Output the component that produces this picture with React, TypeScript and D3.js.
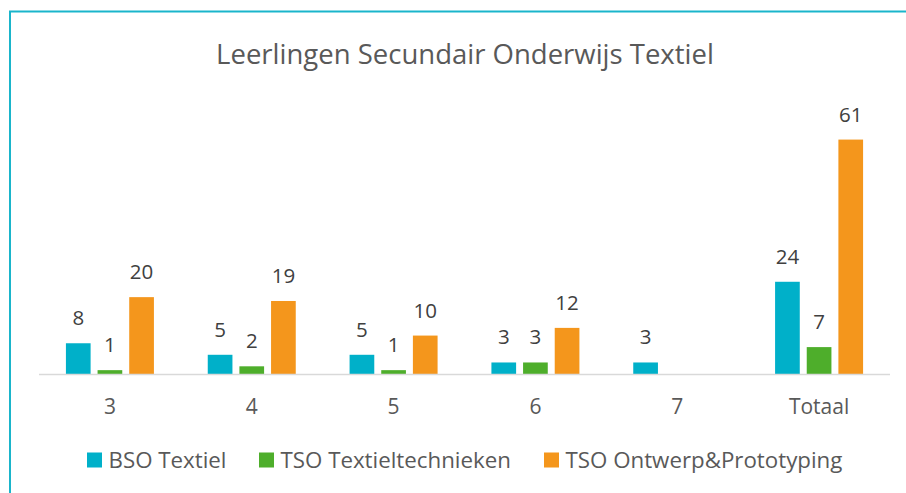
import { useEffect, useRef } from 'react';
import * as d3 from 'd3';

const categories = ['3', '4', '5', '6', '7', 'Totaal'];
const seriesNames = ['BSO Textiel', 'TSO Textieltechnieken', 'TSO Ontwerp&Prototyping'];
const bsoTextiel = [8, 5, 5, 3, 3, 24];
const tsoTextieltechnieken = [1, 2, 1, 3, null, 7];
const tsoOntwerp = [20, 19, 10, 12, null, 61];
const colors = ['#00B0C9', '#4EAE2B', '#F4961C'];

const App = () => {
  const ref = useRef<SVGSVGElement | null>(null);

  useEffect(() => {
    const svg = d3.select(ref.current);
    svg.selectAll('*').remove();

    const width = 906;
    const height = 493;
    const font = "'Open Sans', sans-serif";
    const textColor = '#595959';
    const values = [bsoTextiel, tsoTextieltechnieken, tsoOntwerp];

    // frame (top + left edges visible)
    svg
      .append('path')
      .attr('d', `M10,${height} L10,11.5 L${width},11.5`)
      .attr('fill', 'none')
      .attr('stroke', '#1AB5CB')
      .attr('stroke-width', 2);

    svg
      .append('text')
      .attr('x', 465)
      .attr('y', 64)
      .attr('text-anchor', 'middle')
      .attr('font-family', font)
      .attr('font-size', 27.5)
      .attr('fill', textColor)
      .text('Leerlingen Secundair Onderwijs Textiel');

    const x0 = d3.scaleBand().domain(categories).range([39, 890]);
    const x1 = d3
      .scaleBand()
      .domain(seriesNames)
      .range([x0.bandwidth() / 2 - 44, x0.bandwidth() / 2 + 44])
      .paddingInner(0.22);
    const y = d3.scaleLinear().domain([0, 70]).range([374, 105]);

    const g = svg.append('g');

    categories.forEach((cat, ci) => {
      seriesNames.forEach((s, si) => {
        const v = values[si][ci];
        if (v == null) return;
        const bx = (x0(cat) ?? 0) + (x1(s) ?? 0);
        g.append('rect')
          .attr('x', bx)
          .attr('y', y(v))
          .attr('width', x1.bandwidth())
          .attr('height', y(0) - y(v))
          .attr('fill', colors[si]);
        g.append('text')
          .attr('x', bx + x1.bandwidth() / 2)
          .attr('y', y(v) - 18)
          .attr('text-anchor', 'middle')
          .attr('font-family', font)
          .attr('font-size', 20.5)
          .attr('fill', '#404040')
          .text(v);
      });
    });

    // axis line
    svg
      .append('line')
      .attr('x1', 39)
      .attr('x2', 890)
      .attr('y1', y(0) + 0.5)
      .attr('y2', y(0) + 0.5)
      .attr('stroke', '#D9D9D9')
      .attr('stroke-width', 1.5);

    svg
      .append('g')
      .selectAll('text')
      .data(categories)
      .join('text')
      .attr('x', (d) => (x0(d) ?? 0) + x0.bandwidth() / 2)
      .attr('y', 413.5)
      .attr('text-anchor', 'middle')
      .attr('font-family', font)
      .attr('font-size', 21)
      .attr('fill', textColor)
      .text((d) => d);

    // legend
    const legendX = [87, 259, 544];
    const legend = svg.append('g');
    seriesNames.forEach((s, i) => {
      legend
        .append('rect')
        .attr('x', legendX[i])
        .attr('y', 452.5)
        .attr('width', 15)
        .attr('height', 15)
        .attr('fill', colors[i]);
      legend
        .append('text')
        .attr('x', legendX[i] + 21.5)
        .attr('y', 468)
        .attr('font-family', font)
        .attr('font-size', 22.3)
        .attr('fill', textColor)
        .text(s);
    });
  }, []);

  return (
    <svg
      ref={ref}
      width={906}
      height={493}
      style={{ position: 'absolute', left: 0, top: 0, background: '#fff' }}
    />
  );
};

export default App;
